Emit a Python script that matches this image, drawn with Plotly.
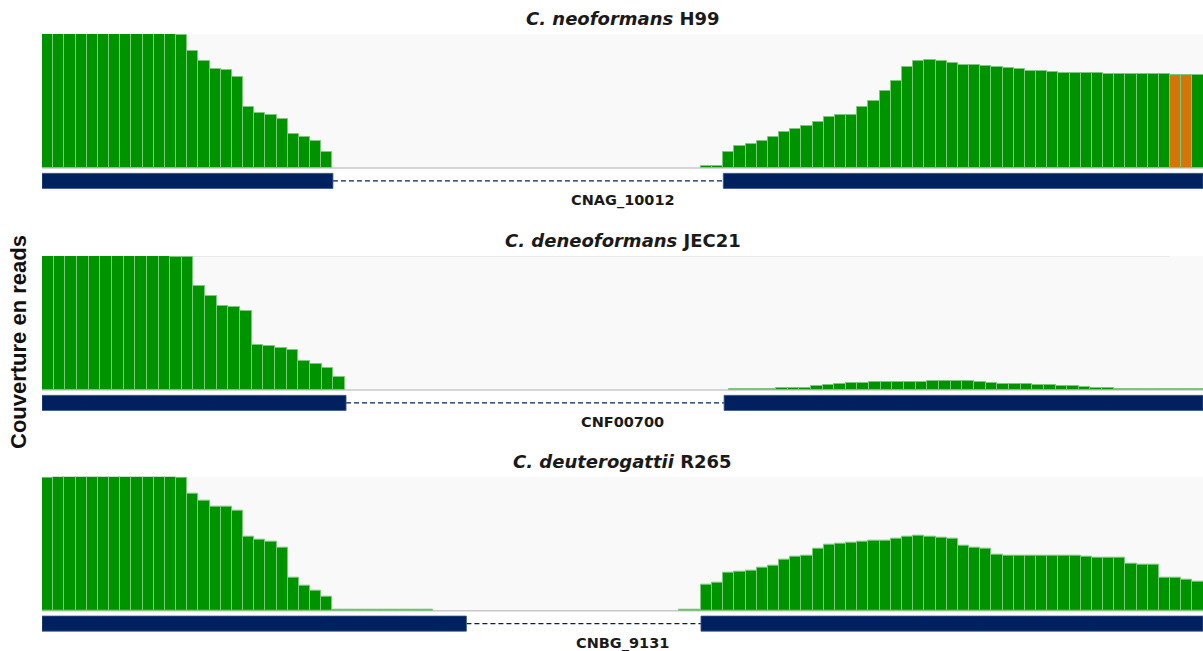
import plotly.graph_objects as go

# ---------------- data (relative read coverage per genomic bin) ----------------
h99_coverage = [
    1.0, 1.0, 1.0, 1.0, 1.0, 1.0, 1.0, 1.0, 1.0, 1.0, 1.0, 1.0, 0.99, 0.876, 0.797, 0.737,
    0.732, 0.682, 0.452, 0.414, 0.397, 0.362, 0.256, 0.231, 0.199, 0.119,
    0, 0, 0, 0, 0, 0, 0, 0, 0, 0, 0, 0, 0, 0, 0, 0, 0, 0, 0, 0, 0, 0, 0, 0, 0, 0, 0, 0, 0, 0, 0, 0, 0,
    0.012, 0.015, 0.117, 0.166, 0.179, 0.201, 0.233, 0.266, 0.29, 0.31, 0.345, 0.382, 0.392, 0.397,
    0.452, 0.501, 0.578, 0.653, 0.752, 0.801, 0.806, 0.801, 0.787, 0.772, 0.772, 0.764, 0.754,
    0.744, 0.739, 0.727, 0.722, 0.717, 0.712, 0.707, 0.707, 0.707, 0.705, 0.702, 0.702, 0.702,
    0.702, 0.702, 0.692, 0.692, 0.695,
]
h99_mismatch_bins = [101, 102]

jec21_coverage = [
    1.0, 1.0, 1.0, 1.0, 1.0, 1.0, 1.0, 1.0, 1.0, 1.0, 1.0, 0.995, 0.993, 0.779, 0.701, 0.627,
    0.622, 0.587, 0.338, 0.326, 0.313, 0.296, 0.216, 0.194, 0.167, 0.095,
    0, 0, 0, 0, 0, 0, 0, 0, 0, 0, 0, 0, 0, 0, 0, 0, 0, 0, 0, 0, 0, 0, 0, 0, 0, 0, 0, 0, 0, 0, 0, 0, 0,
    0.005, 0.005, 0.005, 0.005, 0.012, 0.012, 0.017, 0.032, 0.037, 0.047, 0.052, 0.055, 0.062,
    0.062, 0.062, 0.062, 0.062, 0.067, 0.067, 0.067, 0.065, 0.060, 0.055, 0.045, 0.045, 0.045,
    0.037, 0.037, 0.027, 0.027, 0.025, 0.017, 0.015, 0.010, 0.010, 0.010, 0.010, 0.010, 0.005,
    0.005, 0.005,
]

r265_coverage = [
    0.993, 1.0, 1.0, 1.0, 1.0, 1.0, 1.0, 1.0, 1.0, 1.0, 1.0, 1.0, 0.993, 0.875, 0.823, 0.778,
    0.773, 0.75, 0.555, 0.528, 0.518, 0.468, 0.243, 0.185, 0.15, 0.105,
    0.01, 0.01, 0.01, 0.01, 0.01, 0.01, 0.01, 0.01, 0.01,
    0, 0, 0, 0, 0, 0, 0, 0, 0, 0, 0, 0, 0, 0, 0, 0, 0, 0, 0, 0, 0, 0,
    0.008, 0.01, 0.195, 0.2125, 0.28, 0.293, 0.298, 0.318, 0.333, 0.383, 0.4, 0.408, 0.46, 0.49,
    0.5, 0.505, 0.515, 0.525, 0.525, 0.535, 0.55, 0.56, 0.555, 0.545, 0.535, 0.483, 0.468,
    0.463, 0.418, 0.413, 0.408, 0.413, 0.408, 0.408, 0.408, 0.408, 0.403, 0.398, 0.398, 0.398,
    0.348, 0.343, 0.343, 0.248, 0.243, 0.233, 0.215,
]

# gene models in bin units: exons (intron joins them)
h99_exons = [(-0.5, 25.55), (60.5, 103.45)]
jec21_exons = [(-0.5, 25.6), (58.05, 99.16)]
r265_exons = [(-0.5, 37.5), (58.5, 103.45)]

titles = ["<i>C. neoformans</i> H99", "<i>C. deneoformans</i> JEC21", "<i>C. deuterogattii</i> R265"]
gene_names = ["CNAG_10012", "CNF00700", "CNBG_9131"]
y_label = "Couverture en reads"

# ---------------- styling ----------------
GREEN = "#009300"
GREEN_EDGE = "#7cc97c"
ORANGE = "#d47508"
NAVY = "#002060"
BG = "#f9f9f9"
FONT = "DejaVu Sans"

W, H = 1203, 651

panels = [
    dict(cov=h99_coverage, exons=h99_exons, xmax=103.45, dom=[0.70814, 0.94777],
         colors=[ORANGE if i in h99_mismatch_bins else GREEN for i in range(len(h99_coverage))],
         topline=False),
    dict(cov=jec21_coverage, exons=jec21_exons, xmax=99.16, dom=[0.36713, 0.60676],
         colors=[GREEN] * len(jec21_coverage), topline=True),
    dict(cov=r265_coverage, exons=r265_exons, xmax=103.45, dom=[0.02811, 0.26774],
         colors=[GREEN] * len(r265_coverage), topline=False),
]

YMIN = -0.1642
EX_TOP, EX_BOT, INTRON_Y = -0.040, -0.153, -0.0965

fig = go.Figure()
shapes = []
annotations = []
layout_axes = {}

for k, p in enumerate(panels):
    n = k + 1
    xa = "x" if n == 1 else f"x{n}"
    ya = "y" if n == 1 else f"y{n}"
    fig.add_trace(go.Bar(
        x=list(range(len(p["cov"]))), y=p["cov"], xaxis=xa, yaxis=ya,
        marker=dict(color=p["colors"],
                    line=dict(color=GREEN_EDGE, width=[1 if v > 0 else 0 for v in p["cov"]])),
        width=1.0, showlegend=False, hoverinfo="skip",
    ))
    xkey = "xaxis" if n == 1 else f"xaxis{n}"
    ykey = "yaxis" if n == 1 else f"yaxis{n}"
    layout_axes[xkey] = dict(domain=[42 / W, 1], range=[-0.5, p["xmax"]], anchor=ya,
                             visible=False, fixedrange=True)
    layout_axes[ykey] = dict(domain=p["dom"], range=[YMIN, 1.0], anchor=xa,
                             visible=False, fixedrange=True)
    # background
    shapes.append(dict(type="rect", xref=xa, yref=ya, x0=-0.5, x1=p["xmax"], y0=0, y1=1,
                       fillcolor=BG, line=dict(width=0), layer="below"))
    shapes.append(dict(type="line", xref=xa, yref=ya, x0=-0.5, x1=p["xmax"], y0=0, y1=0,
                       line=dict(color="#c8c8c8", width=1.5), layer="below"))
    if p["topline"]:
        shapes.append(dict(type="line", xref=xa, yref=ya, x0=-0.5, x1=96.3, y0=1, y1=1,
                           line=dict(color="#dcdcdc", width=1.2), layer="below"))
    # gene model
    (a0, a1), (b0, b1) = p["exons"]
    shapes.append(dict(type="line", xref=xa, yref=ya, x0=a1, x1=b0, y0=INTRON_Y, y1=INTRON_Y,
                       line=dict(color=NAVY, width=1.2, dash="5px,3px")))
    for (e0, e1) in p["exons"]:
        shapes.append(dict(type="rect", xref=xa, yref=ya, x0=e0, x1=e1, y0=EX_BOT, y1=EX_TOP,
                           fillcolor=NAVY, line=dict(color="#3b5a92", width=0.8)))
    annotations.append(dict(text=f"<b>{titles[k]}</b>", xref=f"{xa} domain", yref=f"{ya} domain",
                            x=0.5, y=1, xanchor="center", yanchor="bottom", yshift=3,
                            showarrow=False, font=dict(family=FONT, size=18, color="#1a1a1a")))
    annotations.append(dict(text=f"<b>{gene_names[k]}</b>", xref=f"{xa} domain", yref=f"{ya} domain",
                            x=0.5, y=0, xanchor="center", yanchor="top", yshift=0,
                            showarrow=False, font=dict(family=FONT, size=14.5, color="#1a1a1a")))

annotations.append(dict(text=f"<b>{y_label}</b>", xref="paper", yref="paper", x=19 / W,
                        y=1 - 342 / H, xanchor="center", yanchor="middle", textangle=-90,
                        showarrow=False, font=dict(family="Liberation Sans", size=22, color="#111111")))

fig.update_layout(
    width=W, height=H, margin=dict(l=0, r=0, t=0, b=0),
    paper_bgcolor="white", plot_bgcolor="white", bargap=0,
    shapes=shapes, annotations=annotations, **layout_axes,
)

post = (
    "document.body.style.margin='0px';"
    "document.body.style.overflow='hidden';"
    "var gd=document.getElementById('{plot_id}');"
    "gd.style.width='1203px';gd.style.height='651px';"
    "Plotly.relayout(gd,{width:1203,height:651});"
)

fig.write_html("out.html", config={"displayModeBar": False, "responsive": False},
               post_script=post)
